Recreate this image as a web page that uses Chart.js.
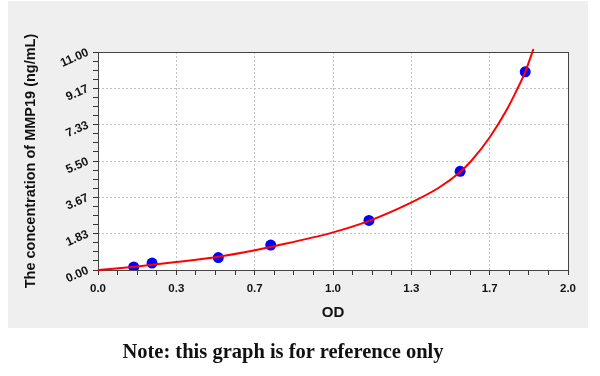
<!DOCTYPE html>
<html>
<head>
<meta charset="utf-8">
<script src="https://cdn.jsdelivr.net/npm/chart.js@4.4.1/dist/chart.umd.min.js"></script>
<style>
  html, body { margin: 0; padding: 0; background: #fff; }
  #wrap { position: relative; width: 600px; height: 376px; }
  #chart { position: absolute; left: 0; top: 0; }
  #note {
    position: absolute; left: 0; top: 340px; width: 566px; text-align: center;
    font-family: "Liberation Serif", "DejaVu Serif", serif; font-weight: bold;
    font-size: 20.5px; color: #111;
  }
</style>
</head>
<body>
<div id="wrap">
  <canvas id="chart" width="600" height="376"></canvas>
  <div id="note">Note: this graph is for reference only</div>
</div>
<script>
// standards
const standardOD = [0.152, 0.230, 0.512, 0.735, 1.153, 1.541, 1.818];
const standardConc = [0.156, 0.35, 0.63, 1.26, 2.50, 4.98, 10.0];

// fitted curve
const curveOD = [0, 0.157, 0.333, 0.512, 0.668, 0.753, 1.0, 1.153, 1.33, 1.45, 1.541, 1.588, 1.667, 1.74, 1.783, 1.818, 1.853];
const curveConc = [0, 0.17, 0.40, 0.67, 1.0, 1.21, 1.90, 2.48, 3.39, 4.15, 4.95, 5.50, 6.7, 8.1, 9.1, 10.0, 11.15];

// axis tick labels
const xTickLabels = ['0.0', '0.3', '0.7', '1.0', '1.3', '1.7', '2.0'];
const yTickLabels = ['0.00', '1.83', '3.67', '5.50', '7.33', '9.17', '11.00'];

const xMax = 2.0;
const yMax = 11.0;
const minorPerMajor = 4;

function buildTicks(scale, max, count) {
    const steps = count * minorPerMajor;
    const ticks = [];
    for (let i = 0; i <= steps; i++) {
        ticks.push({ value: max * i / steps, major: i % minorPerMajor === 0 });
    }
    scale.ticks = ticks;
}

function tickLabel(labels, index) {
    if (index % minorPerMajor !== 0) return '';
    return labels[index / minorPerMajor];
}

// only inner major ticks get a dotted grid line
function gridColor(labels) {
    return function(c) {
        const i = c.index;
        const last = (labels.length - 1) * minorPerMajor;
        if (i % minorPerMajor !== 0 || i === 0 || i === last) return 'rgba(0,0,0,0)';
        return '#c2c2c2';
    };
}

// grey backdrop + frame around the plot
const panelPlugin = {
    id: 'panel',
    beforeDraw(chart) {
        const c = chart.ctx;
        c.save();
        c.fillStyle = '#efefef';
        c.fillRect(8, 1, 580, 327);
        const a = chart.chartArea;
        c.fillStyle = '#ffffff';
        c.fillRect(a.left, a.top, a.right - a.left, a.bottom - a.top);
        c.restore();
    },
    beforeDatasetsDraw(chart) {
        const c = chart.ctx;
        const a = chart.chartArea;
        c.save();
        c.strokeStyle = '#444';
        c.lineWidth = 1;
        c.strokeRect(Math.round(a.left) + 0.5, Math.round(a.top) + 0.5,
            Math.round(a.right - a.left), Math.round(a.bottom - a.top));
        c.restore();
    }
};

const ctx = document.getElementById('chart').getContext('2d');

new Chart(ctx, {
    type: 'scatter',
    data: {
        datasets: [{
            label: 'Curve',
            type: 'line',
            data: curveOD.map((x, i) => ({ x: x, y: curveConc[i] })),
            borderColor: '#ff0000',
            borderWidth: 2,
            pointRadius: 0,
            cubicInterpolationMode: 'monotone',
            fill: false,
            clip: false,
            order: 1
        }, {
            label: 'Standards',
            data: standardOD.map((x, i) => ({ x: x, y: standardConc[i] })),
            backgroundColor: '#0000ff',
            borderColor: '#0000ff',
            pointRadius: 5.5,
            pointBorderWidth: 0,
            order: 2
        }]
    },
    options: {
        responsive: false,
        animation: false,
        layout: {
            padding: { left: 0, top: 52, right: 32, bottom: 54 }
        },
        plugins: {
            legend: { display: false },
            tooltip: { enabled: false }
        },
        scales: {
            x: {
                type: 'linear',
                min: 0,
                max: xMax,
                afterBuildTicks: function(scale) { buildTicks(scale, xMax, xTickLabels.length - 1); },
                afterFit: function(scale) { scale.height = 52; },
                border: { display: false, dash: [2, 2] },
                grid: {
                    color: gridColor(xTickLabels),
                    tickColor: '#333',
                    tickLength: 5,
                    tickBorderDash: [],
                    lineWidth: 1
                },
                ticks: {
                    autoSkip: false,
                    maxRotation: 0,
                    padding: 7,
                    color: '#111',
                    font: { family: 'Liberation Sans, Arial, sans-serif', size: 11.5, weight: 'bold' },
                    callback: function(value, index) { return tickLabel(xTickLabels, index); }
                },
                title: {
                    display: true,
                    text: 'OD',
                    color: '#111',
                    font: { family: 'Liberation Sans, Arial, sans-serif', size: 15, weight: 'bold' },
                    padding: { top: 0, bottom: 0 }
                }
            },
            y: {
                type: 'linear',
                min: 0,
                max: yMax,
                afterBuildTicks: function(scale) { buildTicks(scale, yMax, yTickLabels.length - 1); },
                afterFit: function(scale) { scale.width = 98; },
                border: { display: false, dash: [2, 2] },
                grid: {
                    color: gridColor(yTickLabels),
                    tickColor: '#333',
                    tickLength: 5,
                    tickBorderDash: [],
                    lineWidth: 1
                },
                ticks: {
                    autoSkip: false,
                    minRotation: 24,
                    maxRotation: 24,
                    padding: 5,
                    color: '#111',
                    font: { family: 'Liberation Sans, Arial, sans-serif', size: 12, weight: 'bold' },
                    callback: function(value, index) { return tickLabel(yTickLabels, index); }
                },
                title: {
                    display: true,
                    text: 'The concentration of MMP19 (ng/mL)',
                    color: '#111',
                    font: { family: 'Liberation Sans, Arial, sans-serif', size: 14.5, weight: 'bold' },
                    padding: { top: 22, bottom: 0 }
                }
            }
        }
    },
    plugins: [panelPlugin]
});
</script>
</body>
</html>
